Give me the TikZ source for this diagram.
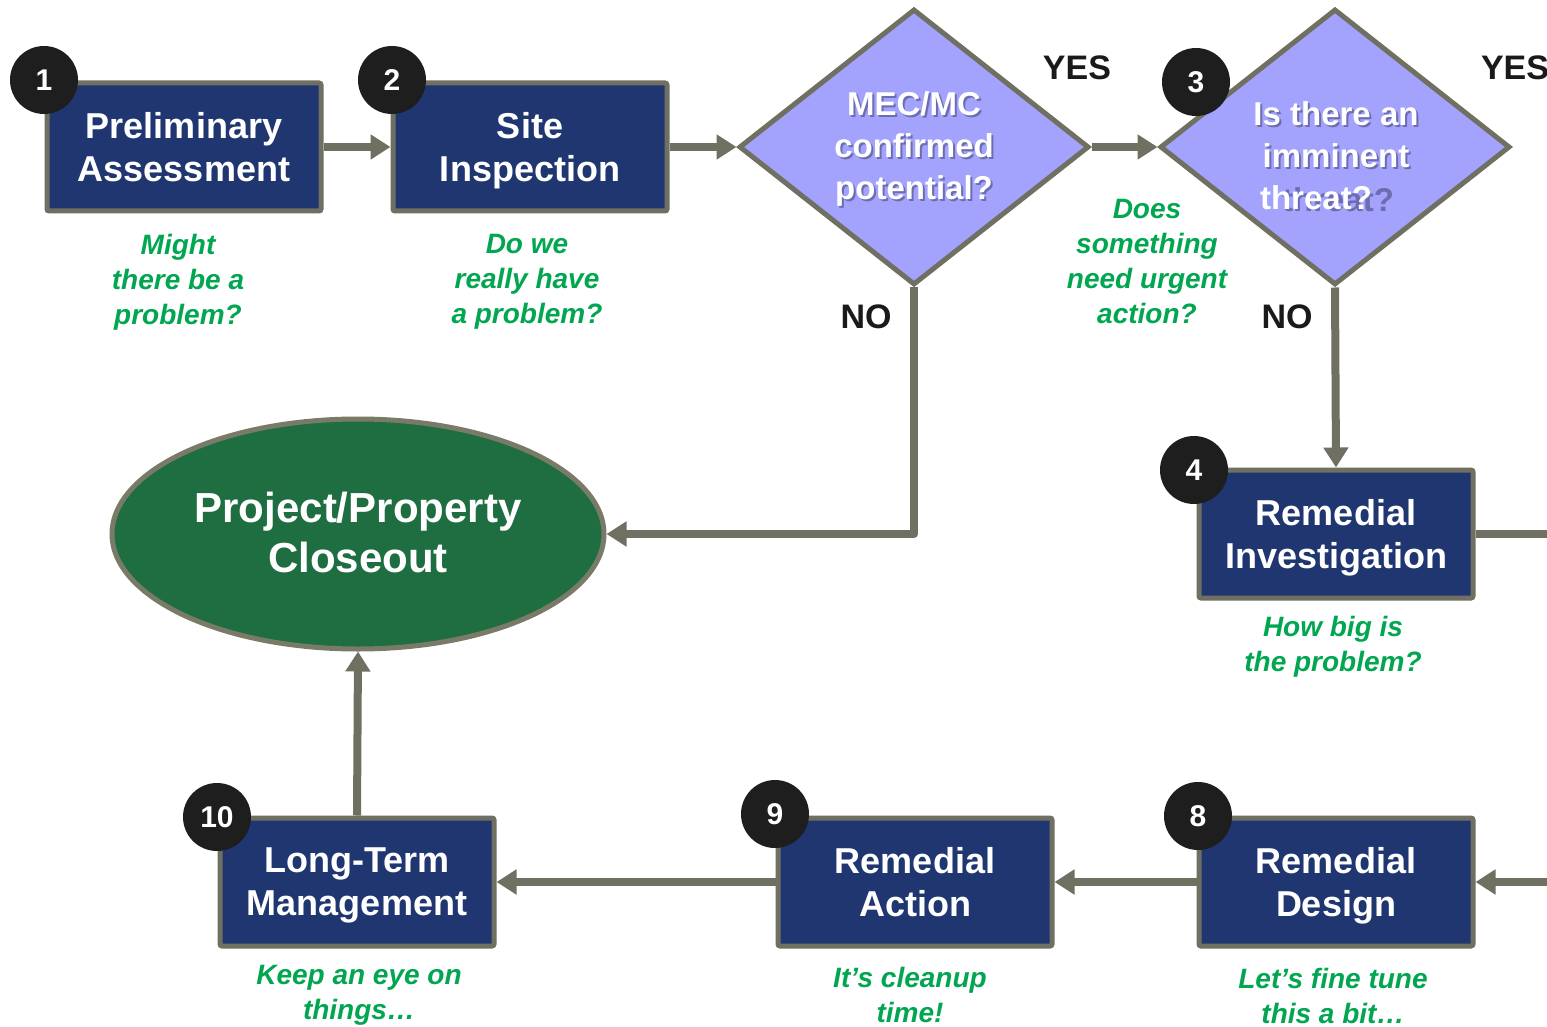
\documentclass[tikz,border=0pt]{standalone}
\usepackage{fontspec}
\setmainfont{Liberation Sans}
\usetikzlibrary{shapes.geometric,arrows.meta}
\definecolor{navy}{RGB}{31,54,112}
\definecolor{bordergray}{RGB}{112,112,98}
\definecolor{diafill}{RGB}{163,163,253}
\definecolor{ellfill}{RGB}{30,110,66}
\definecolor{ellborder}{RGB}{122,122,104}
\definecolor{hintgreen}{RGB}{0,166,80}
\definecolor{circblack}{RGB}{30,30,30}
\definecolor{ynblack}{RGB}{26,26,26}
\definecolor{shadowpurple}{RGB}{95,95,158}
\newcommand\nodp[1]{\raisebox{0pt}[\height][0pt]{#1}}
\tikzset{
  stepbox/.style={rectangle, rounded corners=1pt, draw=bordergray, line width=2.5pt, fill=navy,
    minimum width=137pt, minimum height=64pt, inner sep=0pt},
  boxtext/.style={text=white, align=center, font=\fontsize{18}{21.5}\selectfont\bfseries},
  numcirc/.style={circle, fill=circblack, minimum size=34pt, inner sep=0pt, text=white,
    font=\fontsize{15}{15}\selectfont\bfseries},
  decision/.style={diamond, draw=bordergray, line width=2.5pt, fill=diafill,
    minimum width=175pt, minimum height=138pt, inner sep=0pt, line join=miter},
  diatext/.style={text=white, align=center, font=\fontsize{16.5}{21}\selectfont\bfseries},
  diashadow/.style={text=shadowpurple, align=center, font=\fontsize{16.5}{21}\selectfont\bfseries, opacity=0.8},
  hint/.style={text=hintgreen, align=center, font=\fontsize{14}{17.5}\selectfont\bfseries\itshape},
  yesno/.style={text=ynblack, font=\fontsize{17}{17}\selectfont\bfseries},
  conn/.style={draw=bordergray, line width=4pt, line join=round,
    -{Triangle[length=10pt,width=12pt]}},
  plainconn/.style={draw=bordergray, line width=4pt, line join=round}
}
\begin{document}
\begin{tikzpicture}[x=0.5pt,y=-0.5pt]
\clip (0,0) rectangle (1547,1027);
\fill[white] (0,0) rectangle (1547,1027);

% shapes
\node[stepbox] (b1) at (184,147) {};
\node[stepbox] (b2) at (530,147) {};
\node[decision] (d1) at (914,147) {};
\node[decision] (d2) at (1335,147) {};
\node[stepbox] (b4) at (1336,534) {};
\node[stepbox] (b8) at (1336,882) {};
\node[stepbox] (b9) at (915,882) {};
\node[stepbox] (b10) at (357,882) {};
\node[ellipse, draw=ellborder, line width=2.5pt, fill=ellfill, minimum width=246pt, minimum height=115pt, inner sep=0pt] (close) at (358,534) {};

\coordinate (edgeA) at (1560,534);
\coordinate (edgeB) at (1560,882);

% connectors
\draw[conn] (b1.east) -- (b2.west);
\draw[conn] (b2.east) -- (d1.west);
\draw[conn] (d1.east) -- (d2.west);
\draw[conn] (d1.south) |- (close.east);
\draw[conn] (d2.south) -- (b4.north);
\draw[plainconn] (b4.east) -- (edgeA);
\draw[conn] (edgeB) -- (b8.east);
\draw[conn] (b8.west) -- (b9.east);
\draw[conn] (b9.west) -- (b10.east);
\draw[conn] (b10.north) -- (close.south);

% box texts
\node[boxtext] (t1) at (b1) {Preliminary\\\nodp{Assessment}};
\node[boxtext] (t2) at (b2) {Site\\\nodp{Inspection}};
\node[boxtext] (t4) at (b4) {Remedial\\\nodp{Investigation}};
\node[boxtext] (t8) at (b8) {Remedial\\\nodp{Design}};
\node[boxtext] (t9) at (b9) {Remedial\\\nodp{Action}};
\node[boxtext] (t10) at (b10) {Long-Term\\\nodp{Management}};
\node[text=white, align=center, font=\fontsize{21}{25}\selectfont\bfseries] (tc) at (358,532) {Project/Property\\Closeout};

% diamond texts
\node[diashadow] (s1) at (916,151) {MEC/MC\\confirmed\\potential?};
\node[diatext] (dt1) at (914,149) {MEC/MC\\confirmed\\potential?};
\node[diashadow] (s2) at (1338,158) {Is there an\\imminent\\threat?};
\node[diatext] (dt2) at (1336,156) {Is there an\\imminent\\threat?\hspace*{20pt}};

% numbered circles
\node[numcirc] (c1) at (44,80) {1};
\node[numcirc] (c2) at (392,80) {2};
\node[numcirc] (c3) at (1196,82) {3};
\node[numcirc] (c4) at (1194,470) {4};
\node[numcirc] (c8) at (1198,816) {8};
\node[numcirc] (c9) at (775,814) {9};
\node[numcirc] (c10) at (217,817) {10};

% yes / no
\node[yesno] (y1) at (1077,68) {YES};
\node[yesno] (y2) at (1515,68) {YES};
\node[yesno] (n1) at (866,317) {NO};
\node[yesno] (n2) at (1287,317) {NO};

% hints
\node[hint] (h1) at (178,282) {Might\\there be a\\problem?};
\node[hint] (h2) at (527,282) {Do we\\really have\\a problem?};
\node[hint] (h3) at (1147,262) {Does\\something\\need urgent\\action?};
\node[hint] (h4) at (1333,647) {How big is\\the problem?};
\node[hint] (h10) at (359,995) {Keep an eye on\\things…};
\node[hint] (h9) at (910,995) {It’s cleanup\\time!};
\node[hint] (h8) at (1333,996) {Let’s fine tune\\this a bit…};
\end{tikzpicture}
\end{document}
